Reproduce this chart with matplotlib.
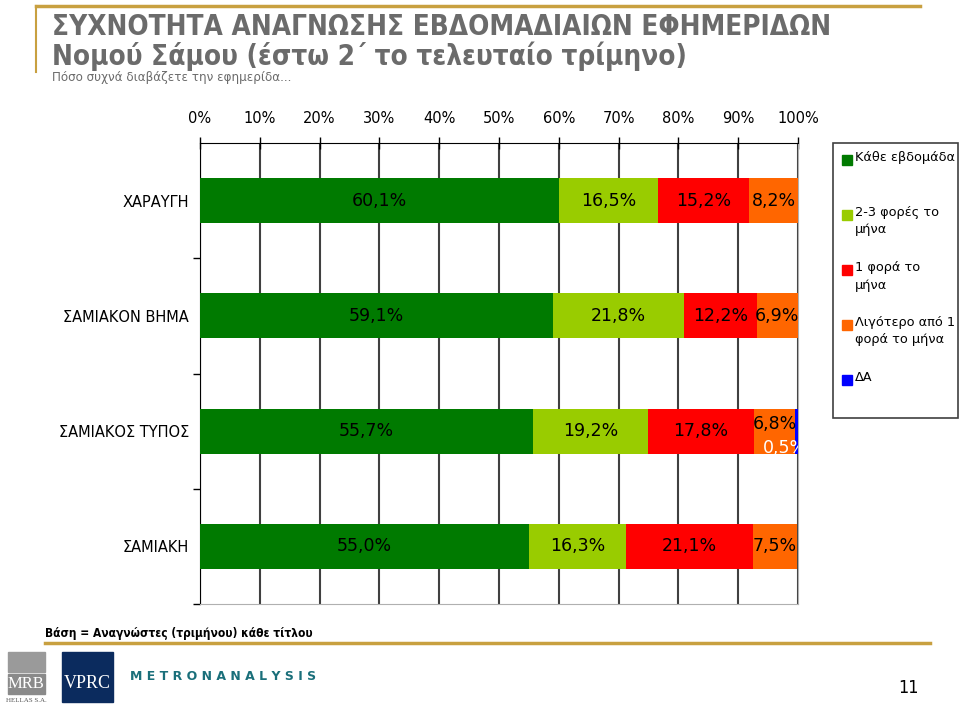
import numpy as np
import matplotlib.pyplot as plt
from matplotlib.patches import Rectangle
from matplotlib.lines import Line2D

# Données
titres = ["ΧΑΡΑΥΓΗ", "ΣΑΜΙΑΚΟΝ ΒΗΜΑ", "ΣΑΜΙΑΚΟΣ ΤΥΠΟΣ", "ΣΑΜΙΑΚΗ"]
kathe_evdomada = [60.1, 59.1, 55.7, 55.0]
fores_2_3 = [16.5, 21.8, 19.2, 16.3]
fora_1 = [15.2, 12.2, 17.8, 21.1]
ligotero = [8.2, 6.9, 6.8, 7.5]
da = [0.0, 0.0, 0.5, 0.0]

series = [kathe_evdomada, fores_2_3, fora_1, ligotero, da]
noms = ["Κάθε εβδομάδα", "2-3 φορές το\nμήνα", "1 φορά το\nμήνα",
        "Λιγότερο από 1\nφορά το μήνα", "ΔΑ"]
couleurs = ["#007A00", "#99CC00", "#FF0000", "#FF6600", "#0000FF"]
ticks_x = [0, 10, 20, 30, 40, 50, 60, 70, 80, 90, 100]

fig = plt.figure(figsize=(9.6, 7.04), dpi=100)
ax = fig.add_axes([200/960, 1-604/704, 598/960, 461/704])

y = np.arange(len(titres))
gauche = np.zeros(len(titres))
for k, (vals, c) in enumerate(zip(series, couleurs)):
    vals = np.array(vals)
    ax.barh(y, vals, left=gauche, height=0.39, color=c, zorder=3)
    for i, v in enumerate(vals):
        if v <= 0:
            continue
        xc = gauche[i] + v / 2
        txt = ("%.1f%%" % v).replace(".", ",")
        if k == 4:
            ax.annotate(txt, (xc, y[i]), xytext=(-8, -12), textcoords="offset points",
                        ha="center", va="center", color="white", fontsize=12.5,
                        zorder=4, annotation_clip=False, clip_on=True)
        elif k == 3 and da[i] > 0:
            ax.annotate(txt, (xc, y[i]), xytext=(0, 5), textcoords="offset points",
                        ha="center", va="center", color="black", fontsize=12.5, zorder=4)
        else:
            ax.text(xc, y[i], txt, ha="center", va="center", color="black",
                    fontsize=12.5, zorder=4)
    gauche = gauche + vals

ax.set_xlim(0, 100)
ax.set_ylim(3.5, -0.5)
ax.xaxis.tick_top()
ax.set_xticks(ticks_x)
ax.set_xticklabels(["%d%%" % t for t in ticks_x], fontsize=10.5)
ax.tick_params(axis="x", direction="inout", length=8, width=1, pad=8)
ax.grid(axis="x", color="#404040", linewidth=1.5, zorder=0)

ax.set_yticks(y)
ax.set_yticklabels(titres, fontsize=10.5)
ax.tick_params(axis="y", length=0, pad=8)
ax.set_yticks(np.arange(len(titres)) + 0.5, minor=True)
ax.tick_params(axis="y", which="minor", length=5, width=1, direction="out")

ax.spines["top"].set_color("black")
ax.spines["left"].set_color("black")
ax.spines["bottom"].set_color("#b0b0b0")
ax.spines["right"].set_color("#b0b0b0")

# Légende (dessinée à la main pour garder le carré sur la première ligne)
fig.add_artist(Rectangle((833/960, 1-418/704), 125/960, 275/704, fill=False,
                         edgecolor="#404040", lw=1.2))
for j, (nom, c) in enumerate(zip(noms, couleurs)):
    yc = 160 + 55 * j
    fig.add_artist(Rectangle((842/960, 1-(yc+5)/704), 10/960, 10/704, color=c))
    fig.text(855/960, 1-(yc-9)/704, nom, fontsize=9.3, va="top", ha="left",
             linespacing=1.45)

# Titres
titre_font = ["DejaVu Sans"]
fig.text(52/960, 1-27/704, "ΣΥΧΝΟΤΗΤΑ ΑΝΑΓΝΩΣΗΣ ΕΒΔΟΜΑΔΙΑΙΩΝ ΕΦΗΜΕΡΙΔΩΝ",
         fontsize=20, fontweight="bold", color="#6b6b6b", family=titre_font,
         fontstretch="condensed", va="center")
fig.text(52/960, 1-56/704, "Νομού Σάμου (έστω 2΄ το τελευταίο τρίμηνο)",
         fontsize=20, fontweight="bold", color="#6b6b6b", family=titre_font,
         fontstretch="condensed", va="center")
fig.text(52/960, 1-77/704, "Πόσο συχνά διαβάζετε την εφημερίδα...",
         fontsize=9.5, color="#6b6b6b", family=titre_font, fontstretch="condensed",
         va="center")

# Lignes dorées
fig.add_artist(Line2D([36/960, 920/960], [1-6/704, 1-6/704], color="#C8A040", lw=2.5))
fig.add_artist(Line2D([36/960, 36/960], [1-6/704, 1-72/704], color="#C8A040", lw=1.5))
fig.add_artist(Line2D([45/960, 930/960], [1-643/704, 1-643/704], color="#C8A040", lw=2.5))

fig.text(45/960, 1-633/704, "Βάση = Αναγνώστες (τριμήνου) κάθε τίτλου",
         fontsize=8.6, fontweight="bold", family=titre_font, fontstretch="condensed",
         va="center")

# Logos
fig.add_artist(Rectangle((8/960, 1-672/704), 37/960, 20/704, color="#9a9a9a"))
fig.add_artist(Rectangle((8/960, 1-694/704), 37/960, 20/704, color="#8a8a8a"))
fig.text(26/960, 1-684/704, "MRB", fontsize=12, color="white", ha="center", va="center",
         family="Liberation Serif")
fig.text(26/960, 1-700/704, "HELLAS S.A.", fontsize=5, color="#555555", ha="center",
         va="center", family="Liberation Serif")
fig.add_artist(Rectangle((62/960, 1-702/704), 51/960, 50/704, color="#0B2B5E"))
fig.text(87/960, 1-684/704, "VPRC", fontsize=13, color="white", ha="center", va="center",
         family="Liberation Serif")
fig.text(130/960, 1-676/704, "M E T R O N A N A L Y S I S", fontsize=9, color="#1A6F7A",
         fontweight="bold", va="center")
fig.text(908/960, 1-688/704, "11", fontsize=13, family=titre_font,
         fontstretch="condensed", ha="center", va="center")

plt.savefig("out.png", dpi=100)
